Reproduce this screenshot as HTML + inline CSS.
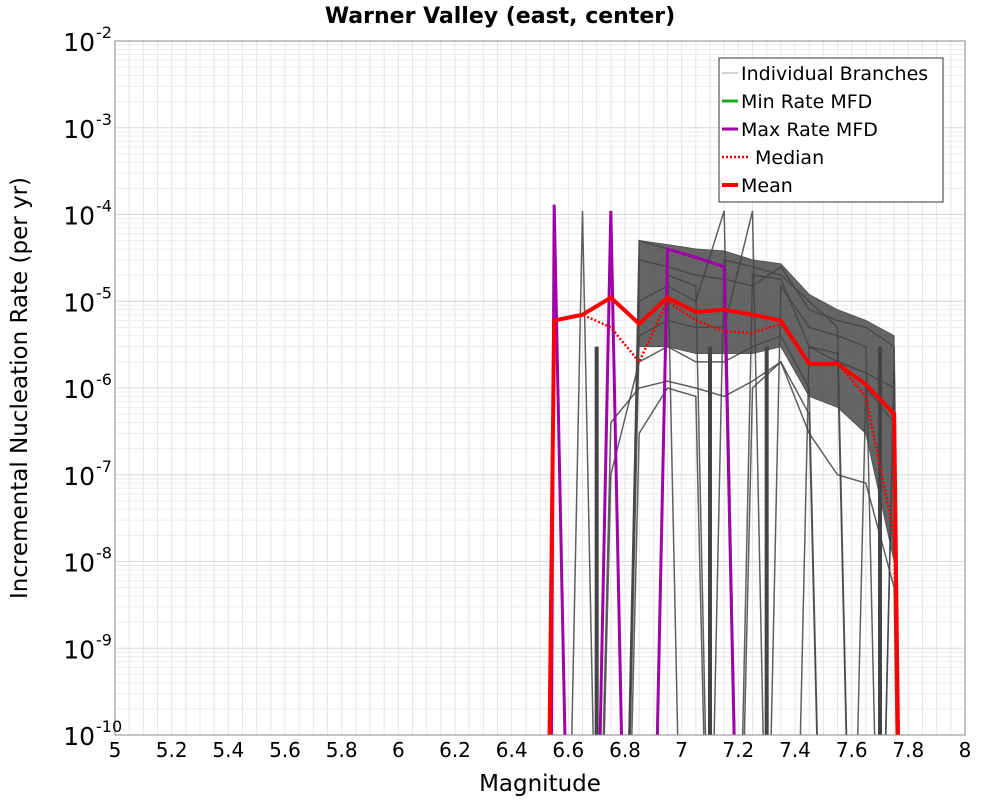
<!DOCTYPE html>
<html><head><meta charset="utf-8"><style>
html,body{margin:0;padding:0;background:#fff;overflow:hidden;width:1000px;height:800px}
svg{display:block}
</style></head><body>
<svg id="chart" width="1000" height="800" xmlns="http://www.w3.org/2000/svg" font-family="DejaVu Sans, Liberation Sans, sans-serif">
<defs><clipPath id="plotclip"><rect x="115" y="41" width="850" height="694"/></clipPath></defs>
<rect x="0" y="0" width="1000" height="800" fill="#fff"/>
<text x="500" y="23" text-anchor="middle" font-size="22" font-weight="bold">Warner Valley (east, center)</text>
<text x="540" y="791" text-anchor="middle" font-size="23">Magnitude</text>
<text transform="translate(27,388) rotate(-90)" text-anchor="middle" font-size="23">Incremental Nucleation Rate (per yr)</text>
<g id="grid"></g>
<g id="branches" clip-path="url(#plotclip)"></g>
<g id="series" clip-path="url(#plotclip)"></g>
<rect x="115" y="41" width="850" height="694" fill="none" stroke="#888" stroke-width="1"/>
<g id="ticks"></g>
<g>
<rect x="719" y="58" width="224" height="144" fill="#fff" stroke="#333" stroke-width="1"/>
<line x1="722" y1="73" x2="738" y2="73" stroke="#aaa" stroke-width="1"/>
<text x="741" y="80" font-size="19">Individual Branches</text>
<line x1="722" y1="101" x2="738" y2="101" stroke="#1aaa1a" stroke-width="3"/>
<text x="741" y="108" font-size="19">Min Rate MFD</text>
<line x1="722" y1="129" x2="738" y2="129" stroke="#a000a8" stroke-width="3"/>
<text x="741" y="136" font-size="19">Max Rate MFD</text>
<line x1="722" y1="157" x2="750" y2="157" stroke="#e00" stroke-width="2.5" stroke-dasharray="2,2"/>
<text x="755" y="164" font-size="19">Median</text>
<line x1="722" y1="185" x2="738" y2="185" stroke="#f00" stroke-width="4"/>
<text x="741" y="192" font-size="19">Mean</text>
</g>
</svg>
<script>
const bins=[6.55,6.65,6.75,6.85,6.95,7.05,7.15,7.25,7.35,7.45,7.55,7.65,7.75];
const meanVals=[6e-6,7e-6,1.1e-5,5.5e-6,1.1e-5,7.5e-6,8e-6,7e-6,6e-6,1.9e-6,1.9e-6,1.1e-6,5e-7];
const medianVals=[6e-6,7e-6,5e-6,2e-6,1e-5,6e-6,4.5e-6,4.3e-6,5.5e-6,1.9e-6,1.9e-6,8e-7,2e-8];
const maxVals=[1.3e-4,1e-20,1.1e-4,1e-20,4e-5,3.2e-5,2.5e-5,1e-20,1e-20,1e-20,1e-20,1e-20,1e-20];
const envBins=[6.85,6.95,7.05,7.15,7.25,7.35,7.45,7.55,7.65,7.75];
const envUpper=[5e-5,4.5e-5,4e-5,3.8e-5,3e-5,2.7e-5,1.2e-5,8e-6,6e-6,4e-6];
const envLower=[3e-6,3e-6,2.5e-6,2.5e-6,2.5e-6,3e-6,8e-7,6e-7,3e-7,1e-8];
const branchA=[1e-20,1e-20,1e-20,3e-5,2.5e-5,2e-5,1.8e-5,1.5e-5,2.5e-5,8e-6,6e-6,5e-6,3e-6];
const branchB=[1e-20,1.1e-4,1e-20,1e-5,1.5e-5,1e-5,1.1e-4,1e-20,1.5e-5,5e-6,4e-6,3e-6,1e-20];
const branchC=[1e-20,1e-20,1e-20,4e-6,6e-6,5e-6,5e-6,1.1e-4,1e-20,3e-6,2e-6,1.5e-6,1e-6];
const branchD=[1e-20,1e-20,1e-7,2e-6,3e-6,2e-6,2e-6,3e-6,4e-6,1e-6,1e-20,1e-6,4e-7];
const branchE=[1e-20,1e-20,1e-20,5e-5,4e-5,1e-20,3e-5,2.5e-5,2e-5,1e-5,5e-6,1e-20,2e-6];
const branchF=[1e-20,1e-20,1e-20,3e-7,1e-6,8e-7,1e-20,1e-6,2e-6,5e-7,1e-20,1e-20,1e-20];
const branchG=[1e-20,1e-20,1.1e-4,1e-20,2e-5,1.5e-5,1e-20,2e-5,1.8e-5,3e-6,2.5e-6,1e-20,1.5e-6];
const branchH=[1e-20,1e-20,4e-7,1e-6,1.2e-6,1e-6,8e-7,1.2e-6,2e-6,3e-7,1e-7,8e-8,5e-9];
const branches=[branchA,branchB,branchC,branchD,branchE,branchF,branchG,branchH];
const xTicks=["5","5.2","5.4","5.6","5.8","6","6.2","6.4","6.6","6.8","7","7.2","7.4","7.6","7.8","8"];
const yExps=[-2,-3,-4,-5,-6,-7,-8,-9,-10];
const NS="http://www.w3.org/2000/svg";
const X=m=>115+(m-5)*850/3;
const Y=v=>41+(-2-Math.log10(v))*694/8;
function mk(tag,attrs,parent){const e=document.createElementNS(NS,tag);for(const k in attrs)e.setAttribute(k,attrs[k]);parent.appendChild(e);return e;}
const grid=document.getElementById('grid'),ticks=document.getElementById('ticks'),br=document.getElementById('branches'),se=document.getElementById('series');
for(let m=5;m<=8.0001;m+=0.05){const l=mk('line',{x1:X(m),x2:X(m),y1:41,y2:735,stroke:'#e6e6e6','stroke-width':1},grid);

}
for(let d=-10;d<-2;d++){for(let k=1;k<10;k++){const y=Y(k*Math.pow(10,d));const l=mk('line',{x1:115,x2:965,y1:y,y2:y,stroke:k==1?'#d8d8d8':'#ececec','stroke-width':1},grid);

}}
xTicks.forEach(t=>{const tx=mk('text',{x:X(+t),y:757,'text-anchor':'middle','font-size':20},ticks);tx.textContent=t;

});
yExps.forEach(e=>{const y=Y(Math.pow(10,e));const tx=mk('text',{x:95,y:y+10,'text-anchor':'end','font-size':25},ticks);tx.textContent='10';


const s=mk('text',{x:96,y:y-3,'font-size':16},ticks);s.textContent=String(e);

});
function pts(vals,start,end){let p=[];if(start!=null)p.push([X(start),Y(1e-20)]);vals.forEach((v,i)=>p.push([X(bins[i]),Y(v)]));if(end!=null)p.push([X(end),Y(1e-20)]);return p.map(q=>q.join(',')).join(' ');}
let env=envBins.map((b,i)=>X(b)+','+Y(envUpper[i])).concat(envBins.map((b,i)=>X(b)+','+Y(envLower[i])).reverse()).join(' ');
const ep=mk('polygon',{points:env,fill:'#4a4a4a','fill-opacity':0.85,stroke:'#555','stroke-width':1},br);


branches.forEach(b=>{const l=mk('polyline',{points:pts(b,null,7.8),fill:'none',stroke:'#444','stroke-width':1.5,'stroke-opacity':0.85},br);

});
const dropBins=[6.7,7.1,7.3,7.7];
dropBins.forEach(m=>{const l=mk('line',{x1:X(m),x2:X(m),y1:Y(3e-6),y2:735,stroke:'#444','stroke-width':4},br);

});
const mx=mk('polyline',{points:pts(maxVals,6.525,null),fill:'none',stroke:'#a000a8','stroke-width':3},se);


const md=mk('polyline',{points:pts(medianVals,6.5,7.8),fill:'none',stroke:'#e00','stroke-width':2.5,'stroke-dasharray':'2,2'},se);


const mn=mk('polyline',{points:pts(meanVals,6.5,7.8),fill:'none',stroke:'#f00','stroke-width':4},se);


</script>
</body></html>
